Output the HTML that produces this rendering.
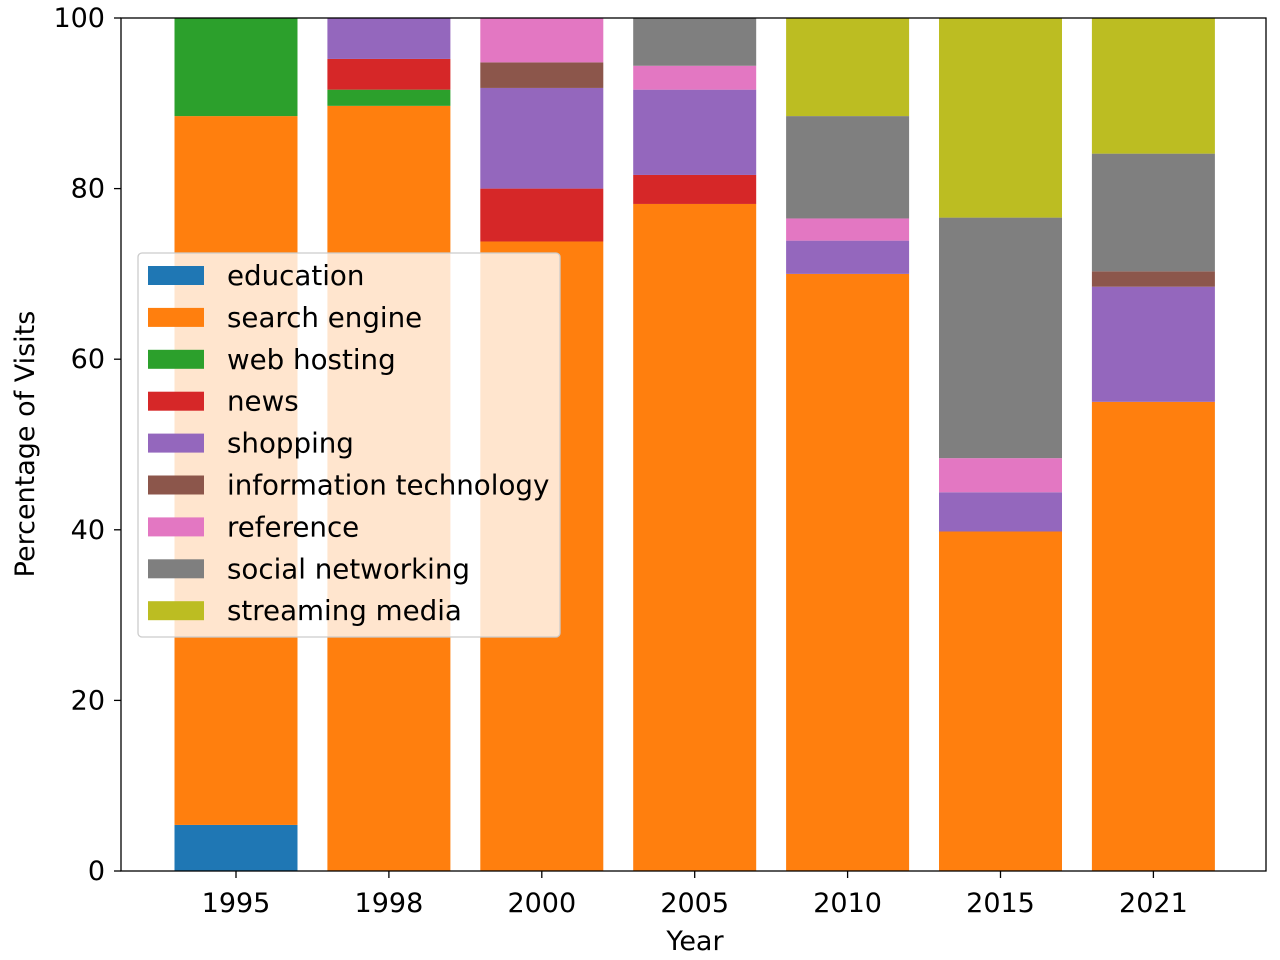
<!DOCTYPE html>
<html><head><meta charset="utf-8"><style>
html,body{margin:0;padding:0;background:#fff;}
svg{display:block;font-family:"DejaVu Sans","Liberation Sans",sans-serif;}
</style></head><body>
<svg id="chart" width="1280" height="960"></svg>
<script>
const categories = ["1995","1998","2000","2005","2010","2015","2021"];
const seriesNames = ["education","search engine","web hosting","news","shopping","information technology","reference","social networking","streaming media"];
const education   = [5.4, 0, 0, 0, 0, 0, 0];
const searchEngine= [83.1, 89.7, 73.8, 78.2, 70.0, 39.8, 55.0];
const webHosting  = [11.5, 1.9, 0, 0, 0, 0, 0];
const news        = [0, 3.6, 6.2, 3.4, 0, 0, 0];
const shopping    = [0, 4.8, 11.8, 10.0, 3.9, 4.6, 13.5];
const infoTech    = [0, 0, 3.0, 0, 0, 0, 1.8];
const reference   = [0, 0, 5.2, 2.8, 2.6, 4.0, 0];
const socialNet   = [0, 0, 0, 5.6, 12.0, 28.2, 13.8];
const streaming   = [0, 0, 0, 0, 11.5, 23.4, 15.9];
const yTicks = [0,20,40,60,80,100];
const allSeries = [education, searchEngine, webHosting, news, shopping, infoTech, reference, socialNet, streaming];
const colors = ["#1f77b4","#ff7f0e","#2ca02c","#d62728","#9467bd","#8c564b","#e377c2","#7f7f7f","#bcbd22"];

const svg = document.getElementById('chart');
const NS = "http://www.w3.org/2000/svg";
const L=121, R=1266, T=18, B=871;
const yScale = v => B - (v/100)*(B-T);
const xCenter = i => 236 + i*152.9;
const barW = 123;
function mk(tag, attrs, parent){const e=document.createElementNS(NS,tag);for(const k in attrs)e.setAttribute(k,attrs[k]);(parent||svg).appendChild(e);return e;}

const bars = mk('g',{});


categories.forEach((c,i)=>{
  let cum=0;
  allSeries.forEach((s,j)=>{
    const v=s[i]; if(!v){return;}
    const r=mk('rect',{x:xCenter(i)-barW/2,y:yScale(cum+v),width:barW,height:yScale(cum)-yScale(cum+v),fill:colors[j]},bars);
    
    
    cum+=v;
  });
});

const ax = mk('rect',{x:L,y:T,width:R-L,height:B-T,fill:'none',stroke:'#000','stroke-width':1.3});


yTicks.forEach(t=>{
  const y=yScale(t);
  mk('line',{x1:L-7,x2:L,y1:y,y2:y,stroke:'#000','stroke-width':1.3});
  const tx=mk('text',{x:L-16,y:y+9,'text-anchor':'end','font-size':27});
  tx.textContent=t;
  
  
});
categories.forEach((c,i)=>{
  const x=xCenter(i);
  mk('line',{x1:x,x2:x,y1:B,y2:B+7,stroke:'#000','stroke-width':1.3});
  const tx=mk('text',{x:x,y:912,'text-anchor':'middle','font-size':27});
  tx.textContent=c;
  
  
});
const xl=mk('text',{x:695,y:950,'text-anchor':'middle','font-size':27});
xl.textContent='Year';


const yl=mk('text',{x:0,y:0,'text-anchor':'middle','font-size':27,transform:'translate(34,444) rotate(-90)'});
yl.textContent='Percentage of Visits';



const lg=mk('g',{});


mk('rect',{x:138,y:253,width:422,height:384,rx:4,fill:'#fff','fill-opacity':0.8,stroke:'#ccc','stroke-width':1.3},lg);
seriesNames.forEach((n,j)=>{
  const y=275+j*41.9;
  const g=mk('g',{},lg);
  
  
  mk('rect',{x:148,y:y-9,width:56,height:19,fill:colors[j]},g);
  const t=mk('text',{x:227,y:y+10,'font-size':27.7},g);
  t.textContent=n;
});
</script>
</body></html>
